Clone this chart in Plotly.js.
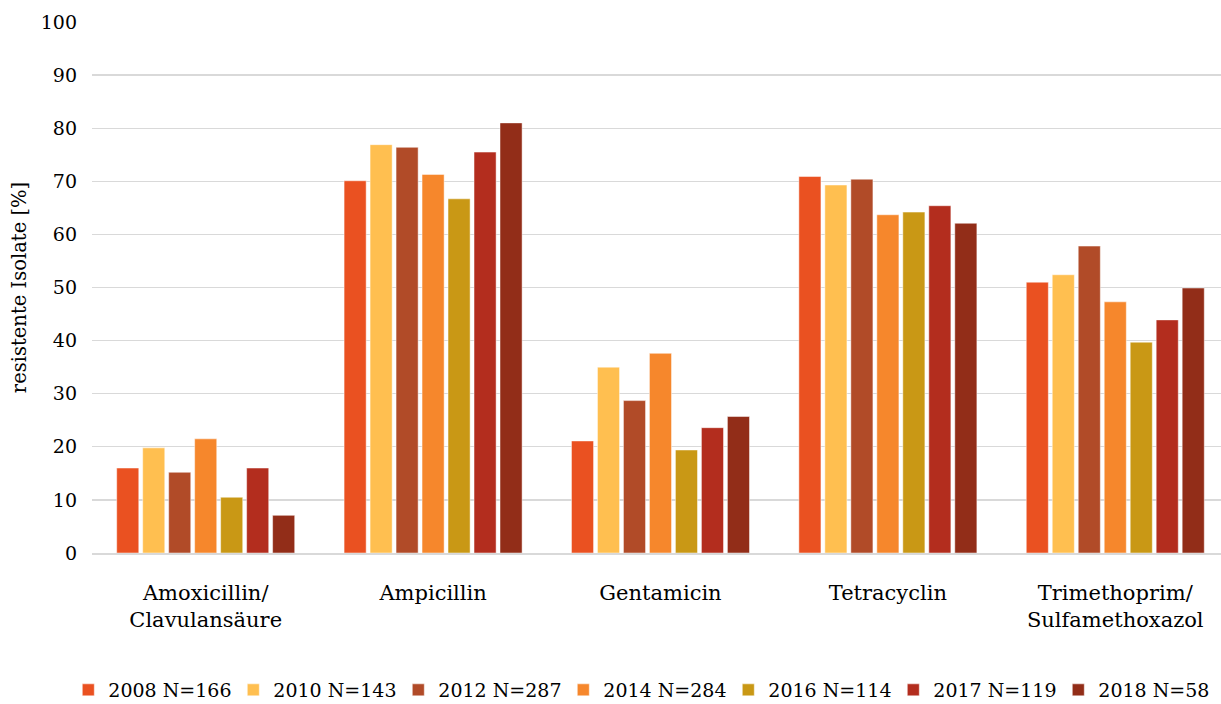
<!DOCTYPE html>
<html>
<head>
<meta charset="utf-8">
<script src="https://cdn.plot.ly/plotly-3.0.1.min.js"></script>
<style>html,body{margin:0;padding:0;background:#fff;}#chart{width:1221px;height:704px;}</style>
</head>
<body>
<div id="chart"></div>
<script>
const categories = ["Amoxicillin/<br>Clavulansäure", "Ampicillin", "Gentamicin", "Tetracyclin", "Trimethoprim/<br>Sulfamethoxazol"];
const seriesNames = ["2008 N=166", "2010 N=143", "2012 N=287", "2014 N=284", "2016 N=114", "2017 N=119", "2018 N=58"];
const v2008 = [16.0, 70.1, 21.1, 70.9, 51.0];
const v2010 = [19.8, 76.9, 35.0, 69.3, 52.4];
const v2012 = [15.2, 76.4, 28.7, 70.4, 57.8];
const v2014 = [21.5, 71.3, 37.6, 63.7, 47.3];
const v2016 = [10.5, 66.7, 19.4, 64.2, 39.7];
const v2017 = [16.0, 75.5, 23.6, 65.4, 43.9];
const v2018 = [7.1, 81.0, 25.7, 62.1, 49.9];
const seriesValues = [v2008, v2010, v2012, v2014, v2016, v2017, v2018];
const colors = ["#EA5121", "#FFBF50", "#B14B28", "#F6872C", "#C99815", "#B32D1E", "#922D18"];

const FONT = "DejaVu Serif";
const traces = seriesNames.map((name, i) => ({
  type: "bar",
  name: name,
  x: categories,
  y: seriesValues[i],
  marker: {color: colors[i], line: {color: "rgba(255,255,255,0.6)", width: 0.8}},
  hoverinfo: "y+name"
}));

const layout = {
  width: 1221,
  height: 704,
  paper_bgcolor: "#fff",
  plot_bgcolor: "#fff",
  margin: {l: 92, r: 0, t: 22, b: 151, autoexpand: false},
  font: {family: FONT, size: 19, color: "#000"},
  barmode: "group",
  bargap: 0.2,
  bargroupgap: 0.15,
  showlegend: true,
  legend: {
    orientation: "h",
    x: -0.021, xanchor: "left",
    y: -0.258, yanchor: "middle",
    font: {family: FONT, size: 19, color: "#000"},
    itemwidth: 30,
    entrywidth: 120,
    traceorder: "normal"
  },
  xaxis: {
    type: "category",
    range: [-0.5, 4.465],
    showgrid: false,
    showline: true,
    linecolor: "#d9d9d9",
    linewidth: 1.5,
    ticks: "",
    ticklabelstandoff: 20,
    tickfont: {family: FONT, size: 21, color: "#000"},
    automargin: false
  },
  yaxis: {
    range: [0, 100],
    dtick: 10,
    showgrid: true,
    gridcolor: "#d9d9d9",
    gridwidth: 1.3,
    zeroline: false,
    showline: false,
    ticks: "",
    ticklabelstandoff: 14,
    tickfont: {family: FONT, size: 19, color: "#000"},
    title: {text: "resistente Isolate [%]", font: {family: FONT, size: 19.5, color: "#000"}, standoff: 8},
    automargin: false
  }
};

Plotly.newPlot("chart", traces, layout, {displayModeBar: false, staticPlot: true});
</script>
</body>
</html>
